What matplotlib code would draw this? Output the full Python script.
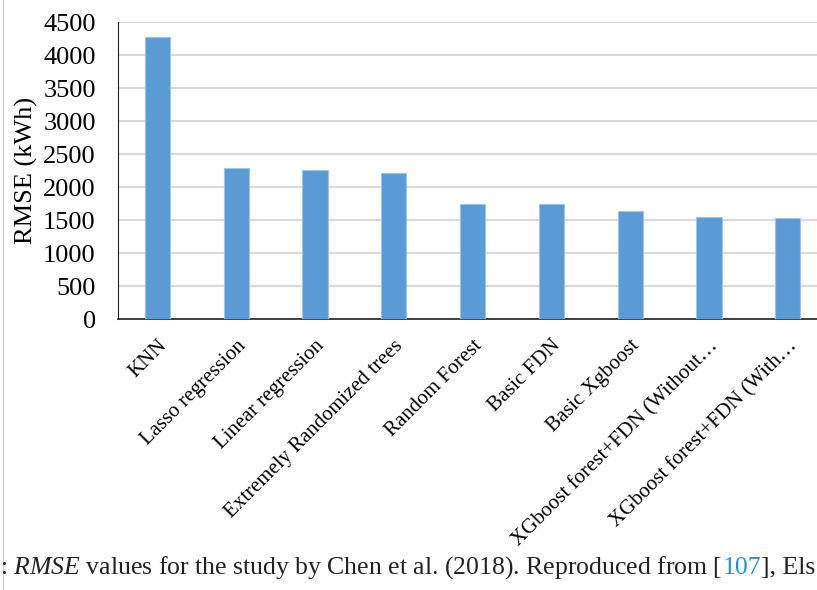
import matplotlib.pyplot as plt
import numpy as np

categories = ['KNN', 'Lasso regression', 'Linear regression', 'Extremely Randomized trees',
              'Random Forest', 'Basic FDN', 'Basic Xgboost',
              'XGboost forest+FDN (Without\u2026', 'XGboost forest+FDN (With\u2026']
rmse = [4270, 2290, 2255, 2220, 1745, 1745, 1642, 1556, 1536]
yticks = [0, 500, 1000, 1500, 2000, 2500, 3000, 3500, 4000, 4500]

plt.rcParams['font.family'] = ['Liberation Serif', 'DejaVu Serif']
plt.rcParams['mathtext.fontset'] = 'custom'
plt.rcParams['mathtext.it'] = 'Liberation Serif:italic'
plt.rcParams['mathtext.rm'] = 'Liberation Serif'

fig = plt.figure(figsize=(8.17, 5.9), dpi=100)
ax = fig.add_axes([0.1444, 0.4585, 0.868, 0.5042])

x = np.arange(len(categories))
ax.bar(x, rmse, width=0.32, color='#5b9bd5', edgecolor='#9dc3e6', linewidth=0.8, zorder=3)

ax.set_xlim(-0.5, len(categories) - 0.5)
ax.set_ylim(0, 4500)
ax.set_yticks(yticks)
ax.set_yticklabels([str(v) for v in yticks], fontsize=19)
ax.yaxis.grid(True, color='#d9d9d9', linewidth=1.5, zorder=0)
ax.tick_params(axis='y', length=0, pad=16)
ax.tick_params(axis='x', length=0, pad=12)
ax.set_xticks(x)
ax.set_xticklabels(categories, rotation=45, ha='right', va='top',
                   rotation_mode='anchor', fontsize=15)
ax.set_ylabel('RMSE (kWh)', fontsize=19, labelpad=4)

for side in ['top', 'right']:
    ax.spines[side].set_visible(False)
ax.spines['left'].set_color('#222222')
ax.spines['bottom'].set_color('#222222')
ax.spines['bottom'].set_linewidth(1.2)

# stray caption from the page below the chart
fig.canvas.draw()
renderer = fig.canvas.get_renderer()
parts = [(': $\\it{RMSE}$ values for the study by Chen et al. (2018). Reproduced from [', '#222222'),
         ('107', '#2a8fd0'),
         ('], Els', '#222222')]
xpos = 0.0
for txt, col in parts:
    t = fig.text(xpos, 0.027, txt, fontsize=18.5, color=col)
    bb = t.get_window_extent(renderer)
    xpos = bb.x1 / fig.bbox.width

# faint page edge on the left
fig.add_artist(plt.Line2D([0.004, 0.004], [0.0, 1.0], color='#cccccc', linewidth=1))

fig.savefig('out.png', dpi=100)
